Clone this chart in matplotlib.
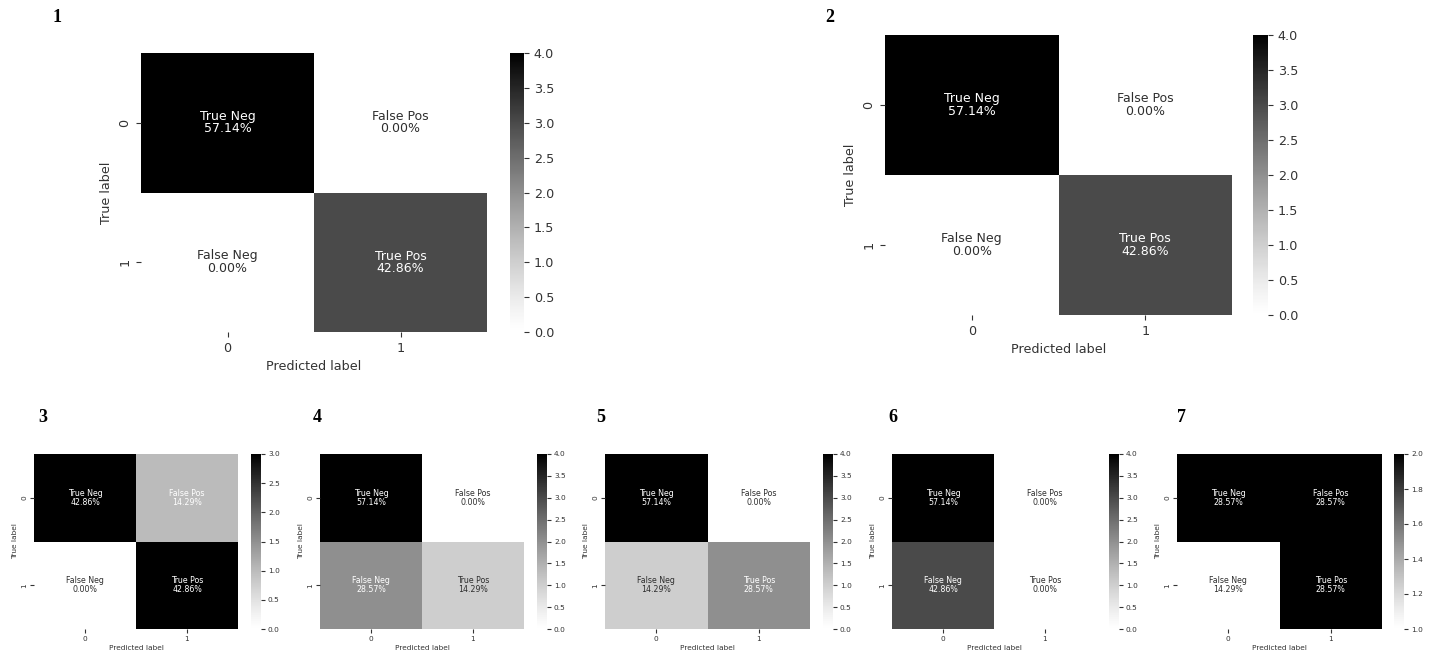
import numpy as np
import matplotlib
matplotlib.use("Agg")
import matplotlib.pyplot as plt
from matplotlib.colors import LinearSegmentedColormap
import seaborn as sns

# ---- data (counts; total 7 samples each) ----
group_names = ["True Neg", "False Pos", "False Neg", "True Pos"]
tick_labels = ["0", "1"]
panel_ids = ["1", "2", "3", "4", "5", "6", "7"]
cm1 = [[4, 0], [0, 3]]
cm2 = [[4, 0], [0, 3]]
cm3 = [[3, 1], [0, 3]]
cm4 = [[4, 0], [2, 1]]
cm5 = [[4, 0], [1, 2]]
cm6 = [[4, 0], [3, 0]]
cm7 = [[2, 2], [1, 2]]
matrices = [cm1, cm2, cm3, cm4, cm5, cm6, cm7]

W, H = 1430, 655
fig = plt.figure(figsize=(W / 100, H / 100), dpi=100)

# slightly lightened "binary" colormap (the reference looks washed out)
_v = np.linspace(0, 1, 256)
_g = 1 - _v ** 1.2
cmap = LinearSegmentedColormap.from_list("soft_binary", list(zip(_v, [(g, g, g) for g in _g])))
base = plt.get_cmap("binary")

def rel_lum(c):
    rgb = np.array(c[:3])
    rgb = np.where(rgb <= .03928, rgb / 12.92, ((rgb + .055) / 1.055) ** 2.4)
    return 0.2126 * rgb[0] + 0.7152 * rgb[1] + 0.0722 * rgb[2]

def box(x0, x1, y0, y1):
    return [x0 / W, 1 - y1 / H, (x1 - x0) / W, (y1 - y0) / H]

layouts = [
    dict(hm=(141, 487, 53, 332), cb=(510, 524), lab=(57, 18), fs=9.2, afs=9.0, small=False),
    dict(hm=(885, 1232, 35, 315), cb=(1253, 1268), lab=(830, 18), fs=9.2, afs=9.0, small=False),
    dict(hm=(34, 238, 454, 629), cb=(251, 261), lab=(43, 417), fs=5.3, afs=5.7, small=True),
    dict(hm=(320, 524, 454, 629), cb=(537, 547), lab=(317, 417), fs=5.3, afs=5.7, small=True),
    dict(hm=(605, 810, 454, 629), cb=(823, 833), lab=(601, 417), fs=5.3, afs=5.7, small=True),
    dict(hm=(892, 1096, 454, 629), cb=(1109, 1119), lab=(893, 417), fs=5.3, afs=5.7, small=True),
    dict(hm=(1177, 1382, 454, 629), cb=(1394, 1404), lab=(1181, 417), fs=5.3, afs=5.7, small=True),
]

for pid, cm, lay in zip(panel_ids, matrices, layouts):
    cm = np.array(cm)
    total = cm.sum()
    pct = ["{0:.2%}".format(v / total) for v in cm.flatten()]
    annot = np.array([f"{n}\n{p}" for n, p in zip(group_names, pct)]).reshape(2, 2)
    x0, x1, y0, y1 = lay["hm"]
    ax = fig.add_axes(box(x0, x1, y0, y1))
    cax = fig.add_axes(box(lay["cb"][0], lay["cb"][1], y0, y1))
    fs = lay["fs"]
    small = lay["small"]
    sns.heatmap(cm, annot=False, cmap=cmap, ax=ax, cbar_ax=cax,
                xticklabels=tick_labels, yticklabels=tick_labels)
    vmin, vmax = cm.min(), cm.max()
    for i in range(2):
        for j in range(2):
            norm_v = (cm[i, j] - vmin) / (vmax - vmin)
            col = "w" if rel_lum(base(norm_v)) <= .408 else "#2e2e2e"
            ax.text(j + 0.5, i + 0.5, annot[i, j], ha="center", va="center",
                    fontsize=lay["afs"], color=col, linespacing=0.95)
    ax.set_xlabel("Predicted label", fontsize=fs, color="#333333",
                  labelpad=2 if small else 4)
    ax.set_ylabel("True label", fontsize=fs, color="#333333",
                  labelpad=2 if small else 4)
    tl = 3 if small else 3.5
    pad = 2 if small else 3.5
    ax.tick_params(axis="both", labelsize=fs, colors="#333333", length=tl,
                   width=0.8, pad=pad)
    for t in ax.get_yticklabels():
        t.set_rotation(90)
        t.set_va("center")
    ax.tick_params(axis="x", labelrotation=0)
    cax.tick_params(labelsize=fs, colors="#333333", length=tl, width=0.8, pad=pad)
    fig.text(lay["lab"][0] / W, 1 - lay["lab"][1] / H, pid, ha="center", va="center",
             fontsize=13, fontweight="bold", family="Liberation Serif")

fig.savefig("out.png", dpi=100)
